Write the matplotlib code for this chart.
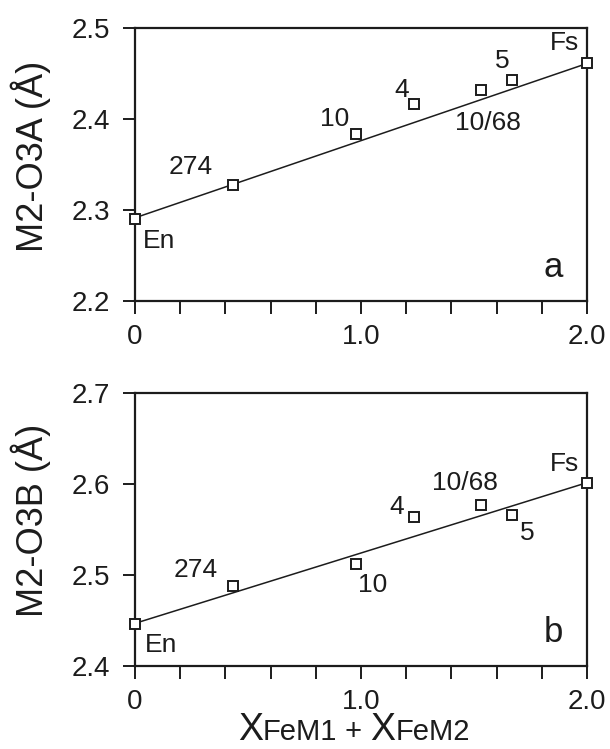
import matplotlib
matplotlib.use("Agg")
import matplotlib.pyplot as plt
import numpy as np

plt.rcParams['font.family'] = ['Liberation Sans', 'DejaVu Sans']

# composition X(FeM1) + X(FeM2)
labels = ['En', '274', '10', '4', '10/68', '5', 'Fs']
xfe = [0.0, 0.434, 0.98, 1.236, 1.532, 1.67, 2.0]

# M2-O3A and M2-O3B distances (A)
o3a = [2.290, 2.327, 2.383, 2.416, 2.431, 2.442, 2.461]
o3b = [2.446, 2.487, 2.512, 2.563, 2.576, 2.566, 2.601]

# fitted lines (end points)
fit_x = [0.0, 2.0]
fit_a = [2.291, 2.4605]
fit_b = [2.4465, 2.601]

# label positions (data coords, text centres)
lab_a = [(0.106, 2.266), (0.248, 2.347), (0.885, 2.400), (1.18, 2.431),
         (1.56, 2.395), (1.624, 2.463), (1.90, 2.483)]
lab_b = [(0.115, 2.423), (0.27, 2.505), (1.05, 2.489), (1.16, 2.574),
         (1.46, 2.601), (1.735, 2.546), (1.90, 2.621)]

ink = '#1c1c1c'
W, H = 610, 749
fig = plt.figure(figsize=(W / 100, H / 100), dpi=100)

ax_a = fig.add_axes([135 / W, 1 - 300.7 / H, 452 / W, 273.2 / H])
ax_b = fig.add_axes([135 / W, 1 - 665.7 / H, 452 / W, 273.2 / H])


def panel(ax, y, fit, labpos, ylim, yticks, letter):
    ax.plot(fit_x, fit, color=ink, lw=1.1, zorder=2)
    ax.plot(xfe, y, ls='none', marker='s', ms=7, mfc='white', mec=ink,
            mew=1.4, zorder=3, clip_on=False)
    for s, (tx, ty) in zip(labels, labpos):
        ax.text(tx, ty, s, fontsize=19, color=ink, ha='center', va='center')
    ax.text(1.85, ylim[0] + 0.037 * (ylim[1] - ylim[0]) / 0.3, letter,
            fontsize=25, color=ink, ha='center', va='center')
    ax.set_xlim(0, 2.0)
    ax.set_ylim(*ylim)
    ax.set_xticks([0, 1.0, 2.0])
    ax.set_xticklabels(['0', '1.0', '2.0'])
    ax.set_xticks(np.arange(0, 2.01, 0.2), minor=True)
    ax.set_yticks(yticks)
    ax.set_yticklabels([f'{v:.1f}' for v in yticks])
    ax.tick_params(axis='both', which='both', direction='out', length=9,
                   width=1.4, color=ink, labelcolor=ink, labelsize=20)
    ax.tick_params(axis='x', which='both', pad=8)
    ax.tick_params(axis='y', which='both', pad=9)
    for sp in ax.spines.values():
        sp.set_linewidth(1.6)
        sp.set_color(ink)


panel(ax_a, o3a, fit_a, lab_a, (2.2, 2.5), [2.2, 2.3, 2.4, 2.5], 'a')
panel(ax_b, o3b, fit_b, lab_b, (2.4, 2.7), [2.4, 2.5, 2.6, 2.7], 'b')

fig.text(31 / W, 1 - 156 / H, 'M2-O3A (Å)', rotation=90, fontsize=26,
         color=ink, ha='center', va='center')
fig.text(31 / W, 1 - 520 / H, 'M2-O3B (Å)', rotation=90, fontsize=26,
         color=ink, ha='center', va='center')

# x label built from pieces so the big X and small FeM share a baseline
fig.canvas.draw()
r = fig.canvas.get_renderer()
pieces = [('X', 27), ('FeM1', 21), (' + ', 21), ('X', 27), ('FeM2', 21)]
xpos = 238
for s, fs in pieces:
    t = fig.text(xpos / W, 1 - 740 / H, s, fontsize=fs, color=ink,
                 ha='left', va='baseline')
    bb = t.get_window_extent(r)
    xpos = bb.x1

fig.savefig('out.png', dpi=100)
